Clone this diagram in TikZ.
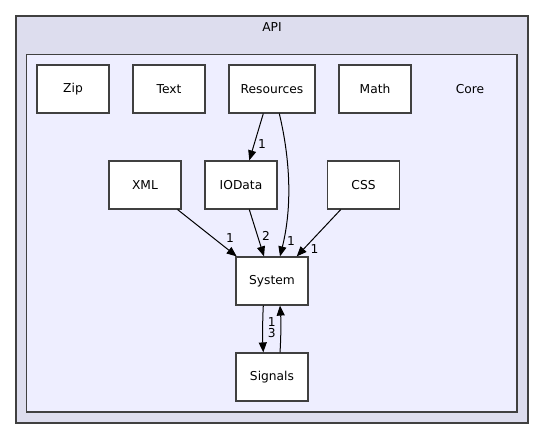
\documentclass[tikz,border=0pt]{standalone}
\usepackage{fontspec}
\setmainfont{DejaVu Sans}
\usetikzlibrary{arrows.meta}
\definecolor{outerfill}{HTML}{DDDDEE}
\definecolor{innerfill}{HTML}{EEEEFF}
\definecolor{frame}{HTML}{404040}
\tikzset{
  pkg/.style={draw=frame, line width=1.2bp, fill=white, minimum width=72bp, minimum height=48bp, inner sep=0pt, font=\fontsize{12.3}{14}\selectfont},
  lbl/.style={inner sep=0pt, font=\fontsize{12.3}{14}\selectfont},
  dep/.style={draw=black, line width=1bp, -{Triangle[length=10bp,width=8bp]}},
  num/.style={inner sep=0pt, font=\fontsize{12.3}{14}\selectfont}
}
\begin{document}
\begin{tikzpicture}[x=1bp,y=-1bp]
\useasboundingbox (0,0) rectangle (544,439);
\node[draw=frame, line width=1.5bp, fill=outerfill, minimum width=512bp, minimum height=407bp, inner sep=0pt] (api) at (272,219.5) {};
\node[lbl] (apilabel) at (272,27.5) {API};
\node[draw=frame, line width=1.5bp, fill=innerfill, minimum width=490.5bp, minimum height=357.5bp, inner sep=0pt] (core) at (271.75,233.25) {};
\node[lbl] (corelabel) at (470,89) {Core};
\node[pkg] (zip) at (73,89) {Zip};
\node[pkg] (text) at (169,89) {Text};
\node[pkg, minimum width=86bp] (res) at (272,89) {Resources};
\node[pkg] (math) at (375,89) {Math};
\node[pkg] (xml) at (145,185) {XML};
\node[pkg] (iodata) at (241,185) {IOData};
\node[pkg] (css) at (363.5,185) {CSS};
\node[pkg] (system) at (272,281) {System};
\node[pkg] (signals) at (272,377) {Signals};
% edges
\draw[dep] ([xshift=-8.7bp]res.south) -- ([xshift=8.3bp]iodata.north);
\node[num] (l1) at (262,144) {1};
\draw[dep] ([xshift=7.3bp]res.south) .. controls (288,150) and (294,200) .. ([xshift=8bp]system.north);
\node[num] (l2) at (291,241) {1};
\draw[dep] ([xshift=-4bp]xml.south east) -- ([xshift=-35.3bp]system.north);
\node[num] (l3) at (230,238) {1};
\draw[dep] ([xshift=8.3bp]iodata.south) -- ([xshift=-8bp]system.north);
\node[num] (l4) at (266,236) {2};
\draw[dep] ([xshift=-22.8bp]css.south) -- ([xshift=24.7bp]system.north);
\node[num] (l5) at (314.5,249) {1};
\draw[dep] ([xshift=-8.7bp]system.south) .. controls (262.5,320) and (262.5,338) .. ([xshift=-8.7bp]signals.north);
\node[num] (l6) at (271.7,333) {3};
\draw[dep] ([xshift=8bp]signals.north) .. controls (281,338) and (281,320) .. ([xshift=8bp]system.south);
\node[num] (l7) at (271.7,322) {1};
\end{tikzpicture}
\end{document}
